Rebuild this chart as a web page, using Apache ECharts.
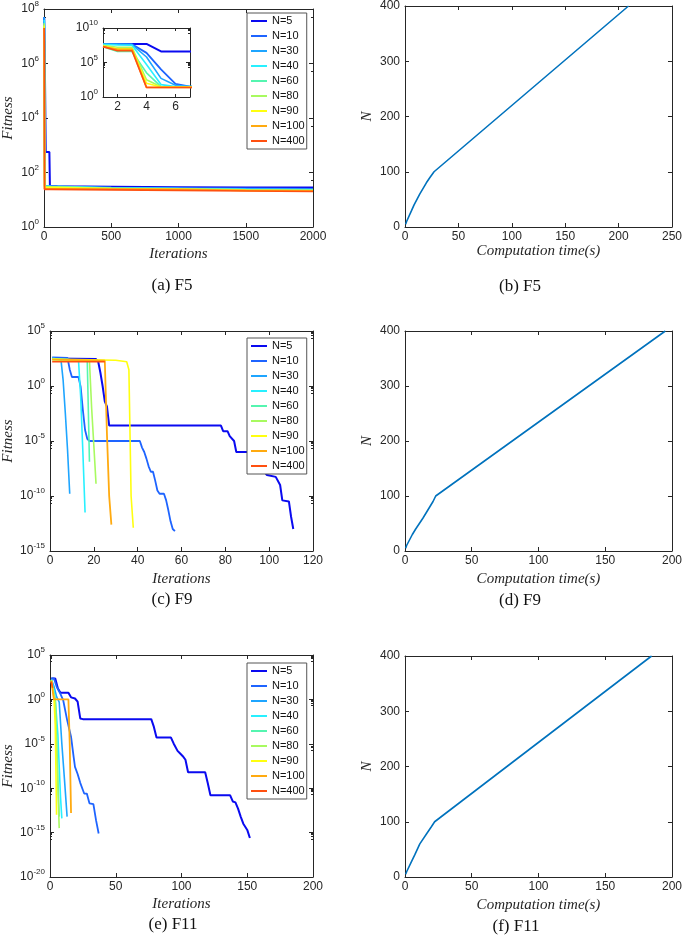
<!DOCTYPE html>
<html><head><meta charset="utf-8">
<script src="https://cdn.jsdelivr.net/npm/echarts@6/dist/echarts.min.js"></script>
<style>html,body{margin:0;padding:0;background:#fff}#c{width:685px;height:944px}</style>
</head><body><div id="c"></div>
<script>
// ---------- DATA ----------
const popNames = ['N=5','N=10','N=30','N=40','N=60','N=80','N=90','N=100','N=400'];
const popSizes = [5,10,30,40,60,80,90,100,400];

// F5: [iteration, fitness]
const f5_N5   = [[1,5.0e7],[2,5.0e7],[3,5.0e7],[4,5.0e7],[5,4.0e6],[6,4.0e6],[7,4.0e6],[12,4.0e6],[13,5.6e2],[40,5.6e2],[44,32],[100,31],[500,30],[1000,29],[1500,28],[2000,28]];
const f5_N10  = [[1,5.0e7],[2,5.0e7],[3,4.4e7],[4,2.5e6],[5,1.0e4],[6,79],[7,32],[50,31],[500,28],[1000,27],[1500,26],[2000,25]];
const f5_N30  = [[1,5.0e7],[2,4.5e7],[3,4.0e7],[4,6.3e5],[5,5.0e2],[6,50],[7,32],[50,31],[500,28],[1000,26],[1500,25],[2000,24]];
const f5_N40  = [[1,4.0e7],[2,3.5e7],[3,3.2e7],[4,5.0e4],[5,63],[6,32],[7,32],[50,31],[500,27],[1000,26],[1500,24],[2000,23]];
const f5_N60  = [[1,2.0e7],[2,4.0e6],[3,4.0e6],[4,3.2e3],[5,32],[6,31],[7,31],[50,30],[500,27],[1000,25],[1500,23],[2000,22]];
const f5_N80  = [[1,3.0e7],[2,1.6e7],[3,1.6e7],[4,3.2e2],[5,30],[6,30],[7,30],[50,30],[500,26],[1000,25],[1500,23],[2000,22]];
const f5_N90  = [[1,2.5e7],[2,1.0e7],[3,1.0e7],[4,1.0e2],[5,28],[6,28],[7,28],[50,28],[500,26],[1000,24],[1500,22],[2000,21]];
const f5_N100 = [[1,2.0e7],[2,8.0e6],[3,8.0e6],[4,25],[5,25],[6,25],[7,25],[50,25],[500,25],[1000,24],[1500,22],[2000,21]];
const f5_N400 = [[1,2.0e7],[2,5.0e6],[3,5.0e6],[4,24],[5,24],[6,24],[7,24],[50,24],[500,23],[1000,22],[1500,21],[2000,20]];

// F9
const f9_N5   = [[1,3.2e2],[21,2.8e2],[22,1.6e2],[23,16],[24,1],[25,4e-2],[26,1.3e-2],[27,2.5e-4],[78,2.5e-4],[79,7.9e-5],[81,7.9e-5],[82,2.8e-5],[84,1e-5],[85,1e-6],[93,1e-6],[95,1.6e-7],[96,4.5e-8],[99,8e-9],[103,5.5e-9],[105,1e-9],[106,4e-11],[109,3.2e-11],[110,1.3e-12],[111,1e-13]];
const f9_N10  = [[1,4e2],[8,3.5e2],[9,32],[10,6.6],[13,6.6],[14,0.8],[15,6.3e-3],[16,1e-4],[17,1.6e-5],[18,1e-5],[41,1e-5],[42,2.5e-6],[43,1e-6],[44,2.5e-7],[45,5e-8],[46,1.6e-8],[47,1.6e-8],[48,2.5e-9],[49,3.2e-10],[50,1.6e-10],[52,1.6e-10],[53,4e-11],[54,5e-12],[55,5e-13],[56,1e-13],[57,6.3e-14]];
const f9_N30  = [[1,3.5e2],[5,2.5e2],[6,3.2],[7,3.2e-3],[8,1.6e-6],[9,1.6e-10]];
const f9_N40  = [[1,3.2e2],[13,2.2e2],[14,0.1],[15,1e-6],[16,3.2e-12]];
const f9_N60  = [[1,2.8e2],[17,2.0e2],[18,1.3e-7]];
const f9_N80  = [[1,2.5e2],[18,2.0e2],[19,1e-2],[20,4e-6],[21,1.3e-9]];
const f9_N90  = [[1,2.8e2],[30,2.2e2],[35,1.6e2],[36,30],[37,1e-10],[38,1.3e-13]];
const f9_N100 = [[1,2.5e2],[25,2.0e2],[26,3.5e-5],[27,1e-10],[28,2.5e-13]];
const f9_N400 = [[1,1.6e2],[25,1.6e2]];

// F11
const f11_N5   = [[1,2.3e2],[4,2.3e2],[6,17],[8,5.6],[14,5.6],[16,1.7],[19,1.26],[21,0.55],[23,7.2e-3],[25,6e-3],[77,6e-3],[79,8e-4],[81,5e-5],[92,5e-5],[94,1.1e-5],[97,1.6e-6],[99,8e-7],[101,4e-7],[103,1.6e-7],[105,6.3e-9],[118,6.3e-9],[120,3.6e-10],[122,1.6e-11],[137,1.6e-11],[139,3.2e-12],[141,2.5e-12],[143,5e-13],[145,6.3e-14],[147,1e-14],[148,1e-14],[150,2e-15],[152,2.5e-16]];
const f11_N10  = [[1,2.3e2],[3,2.3e2],[5,28],[8,4],[10,0.85],[13,5e-3],[16,6.3e-5],[18,3.2e-7],[19,2.5e-8],[21,4e-9],[23,4e-10],[25,6.3e-11],[26,2.5e-11],[28,2.5e-11],[30,2e-12],[33,1.6e-12],[35,2.5e-14],[37,8e-16]];
const f11_N30  = [[1,1.8e2],[3,30],[5,2],[7,0.5],[9,1e-5],[11,1e-9],[13,6.3e-14]];
const f11_N40  = [[1,1.6e2],[3,10],[4,1],[6,1e-4],[8,1e-11],[9,4e-14]];
const f11_N60  = [[1,1.6e2],[3,5],[4,0.8],[5,1e-4],[6,1e-9],[7,6.3e-14]];
const f11_N80  = [[1,1.4e2],[3,3],[4,0.5],[5,1e-5],[6,1e-10],[7,3.2e-15]];
const f11_N90  = [[1,1.4e2],[3,1.5],[4,1e-3],[5,1e-13]];
const f11_N100 = [[1,1.2e2],[3,1],[14,1],[15,1e-5],[16,1.6e-13]];
const f11_N400 = [[1,1.0e2],[2,20]];

// Computation time (s) for each population size
const timeF5  = [0.6, 1.5, 6.2, 8.5, 13.9, 20.0, 23.5, 27.2, 209.3];
const timeF9  = [0.5, 1.2, 5.5, 8.0, 13.5, 18.5, 21.0, 23.0, 195.0];
const timeF11 = [0.5, 1.3, 5.3, 7.3, 11.1, 16.7, 19.5, 22.2, 184.7];

const fitF5  = [f5_N5,f5_N10,f5_N30,f5_N40,f5_N60,f5_N80,f5_N90,f5_N100,f5_N400];
const fitF9  = [f9_N5,f9_N10,f9_N30,f9_N40,f9_N60,f9_N80,f9_N90,f9_N100,f9_N400];
const fitF11 = [f11_N5,f11_N10,f11_N30,f11_N40,f11_N60,f11_N80,f11_N90,f11_N100,f11_N400];

// ---------- STYLE ----------
const lineColors = ['#0a0af0','#1e64ff','#1ea5ff','#28f0ff','#55f5b0','#a8fa60','#ffff10','#ffaa10','#ff5010'];
const lineWidths = [2,1.8,1.6,1.6,1.6,1.6,1.6,1.8,1.6];
const SANS = 'Liberation Sans, Arial, sans-serif';
const SERIF = 'Liberation Serif, Times New Roman, serif';
const AX = '#262626';

const grids = [
  {left:43, top:6, width:270, height:221},   // 0 a
  {left:103, top:28, width:87, height:69, show:true, backgroundColor:'#fff', borderWidth:0}, // 1 inset
  {left:405, top:6, width:270, height:221},  // 2 b
  {left:49, top:331, width:264, height:220}, // 3 c
  {left:405, top:331, width:270, height:220},// 4 d
  {left:49, top:655, width:264, height:222}, // 5 e
  {left:405, top:656, width:270, height:221} // 6 f
];

const xAxes = [], yAxes = [];
function plainFmt(v){ return String(v); }
function logFmt(v){ const e = Math.round(Math.log10(v)); return '{b|10}{s|' + e + '}'; }
const richLog = {
  b:{fontSize:12, lineHeight:18, fontFamily:SANS, color:AX},
  s:{fontSize:8, lineHeight:8, verticalAlign:'top', fontFamily:SANS, color:AX}
};
function baseAxis(extra){
  return Object.assign({
    axisLine:{show:true, onZero:false, lineStyle:{color:AX, width:1}},
    axisTick:{show:true, inside:true, length:4, lineStyle:{color:AX}},
    splitLine:{show:false},
    axisLabel:{color:AX, fontSize:12, fontFamily:SANS, margin:4, formatter:plainFmt}
  }, extra);
}
function addBox(gi, xc, yc){
  const xa = baseAxis(Object.assign({gridIndex:gi, position:'bottom'}, xc.main));
  const xt = baseAxis(Object.assign({gridIndex:gi, position:'top'}, xc.mirror));
  xt.axisLabel = {show:false};
  const ya = baseAxis(Object.assign({gridIndex:gi, position:'left'}, yc.main));
  const yr = baseAxis(Object.assign({gridIndex:gi, position:'right'}, yc.mirror));
  yr.axisLabel = {show:false};
  xAxes.push(xa, xt); yAxes.push(ya, yr);
}
function valX(min,max,interval,name,gap){
  const common = {type:'value', min, max, interval};
  return {main:Object.assign({}, common, {name, nameLocation:'middle', nameGap:gap,
      nameTextStyle:{fontFamily:SERIF, fontStyle:'italic', fontSize:15, color:AX}}),
    mirror:Object.assign({}, common)};
}
function logY(min,max,interval,name,gap,minorSplit){
  const common = {type:'log', logBase:10, min, max, interval,
    minorTick:{show:true, splitNumber:minorSplit, length:2, lineStyle:{color:AX}}};
  return {main:Object.assign({}, common, {name, nameLocation:'middle', nameGap:gap,
      nameTextStyle:{fontFamily:SERIF, fontStyle:'italic', fontSize:15, color:AX},
      axisLabel:{color:AX, fontSize:12, fontFamily:SANS, margin:5, formatter:logFmt, rich:richLog}}),
    mirror:common};
}
function linY(name,gap){
  const common = {type:'value', min:0, max:400, interval:100};
  return {main:Object.assign({}, common, {name, nameLocation:'middle', nameGap:gap,
      nameTextStyle:{fontFamily:SERIF, fontStyle:'italic', fontSize:15, color:AX},
      axisLabel:{color:AX, fontSize:12, fontFamily:SANS, margin:5, formatter:plainFmt}}),
    mirror:common};
}

// grid 0: a
addBox(0, valX(0,2000,500,'Iterations',20), logY(1,1e8,2,'Fitness',28,2));
// grid 1: inset (x labels at 2,4,6 only)
const insetTicks = [2,4,6];
const insetX = {main:{type:'value', min:1, max:7,
    axisLabel:{color:AX, fontSize:12, fontFamily:SANS, margin:4, customValues:insetTicks, formatter:plainFmt},
    axisTick:{show:true, inside:true, length:3, customValues:insetTicks, lineStyle:{color:AX}}},
  mirror:{type:'value', min:1, max:7,
    axisTick:{show:true, inside:true, length:3, customValues:insetTicks, lineStyle:{color:AX}}}};
addBox(1, insetX, logY(1,1e10,5,'',0,5));
// grid 2: b
addBox(2, valX(0,250,50,'Computation time(s)',12), linY('N',30));
// grid 3: c
addBox(3, valX(0,120,20,'Iterations',21), logY(1e-15,1e5,5,'Fitness',34,5));
// grid 4: d
addBox(4, valX(0,200,50,'Computation time(s)',21), linY('N',30));
// grid 5: e
addBox(5, valX(0,200,50,'Iterations',20), logY(1e-20,1e5,5,'Fitness',34,5));
// grid 6: f
addBox(6, valX(0,200,50,'Computation time(s)',21), linY('N',30));

// ---------- SERIES ----------
const series = [];
function addFitness(gi, sets){
  sets.forEach((d,i)=>{
    series.push({type:'line', name:popNames[i], xAxisIndex:2*gi, yAxisIndex:2*gi, data:d,
      symbol:'none', clip:true, lineStyle:{color:lineColors[i], width:lineWidths[i]},
      itemStyle:{color:lineColors[i]}});
  });
}
function addTime(gi, times){
  series.push({type:'line', name:'time', xAxisIndex:2*gi, yAxisIndex:2*gi,
    data: times.map((t,i)=>[t, popSizes[i]]), symbol:'none',
    lineStyle:{color:'#0072BD', width:1.6}, itemStyle:{color:'#0072BD'}});
}
addFitness(0, fitF5);
addFitness(1, fitF5);
addTime(2, timeF5);
addFitness(3, fitF9);
addTime(4, timeF9);
addFitness(5, fitF11);
addTime(6, timeF11);

function legendAt(left, top){
  return {data:popNames, orient:'vertical', left, top, itemWidth:16, itemHeight:12, itemGap:3,
    padding:[2,2,2,3], borderColor:'#555', borderWidth:1, backgroundColor:'#fff',
    itemStyle:{opacity:0, borderWidth:0},
    textStyle:{fontSize:11, fontFamily:SANS, color:'#111', lineHeight:12}, selectedMode:false};
}

const captions = [['(a) F5',172,286],['(b) F5',520,287],['(c) F9',172,600],['(d) F9',520,601],['(e) F11',173,925],['(f) F11',516,927]];

const chart = echarts.init(document.getElementById('c'), null, {renderer:'canvas'});
chart.setOption({
  animation:false,
  backgroundColor:'#fff',
  grid:grids,
  xAxis:xAxes,
  yAxis:yAxes,
  legend:[legendAt(247,13), legendAt(247,338), legendAt(247,663)],
  series,
  graphic: captions.map(c=>({type:'text', x:c[1], y:c[2],
    style:{text:c[0], fill:'#111', font:'17px Liberation Serif, serif', textAlign:'center', textVerticalAlign:'middle'}}))
});
</script></body></html>
